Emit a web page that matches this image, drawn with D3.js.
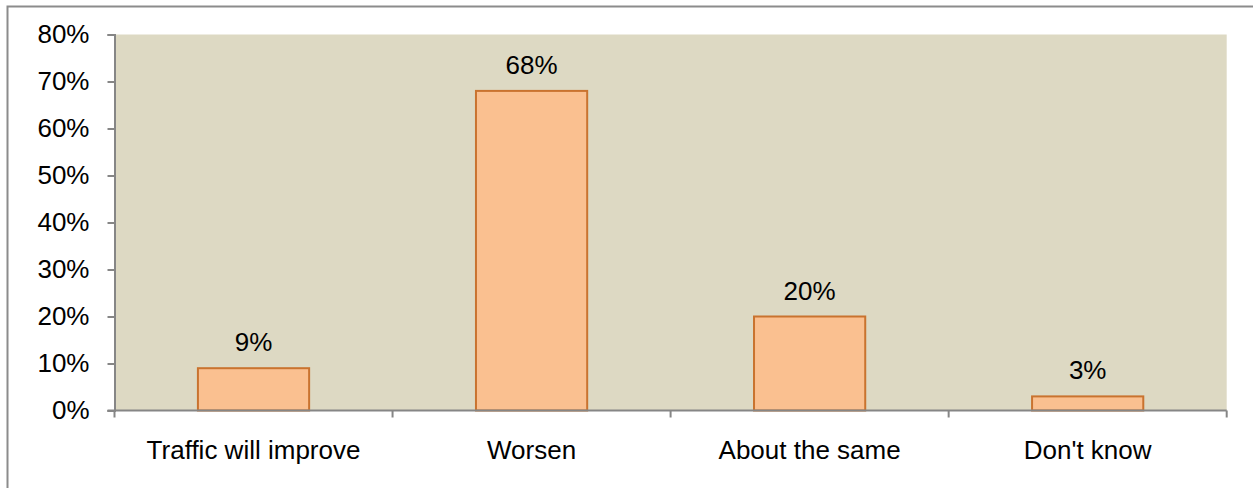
<!DOCTYPE html>
<html>
<head>
<meta charset="utf-8">
<script src="https://cdn.jsdelivr.net/npm/d3@7"></script>
<style>
  html, body { margin: 0; padding: 0; background: #fff; }
  svg { display: block; font-family: "Liberation Sans", Arial, sans-serif; }
</style>
</head>
<body>
<svg id="chart" width="1253" height="488"></svg>
<script>
// Survey responses: expected change in traffic
const categories = ["Traffic will improve", "Worsen", "About the same", "Don't know"];
const shares = [0.09, 0.68, 0.20, 0.03];
const yTicks = [0, 0.1, 0.2, 0.3, 0.4, 0.5, 0.6, 0.7, 0.8];

const svg = d3.select("#chart");
const plotLeft = 114.5, plotRight = 1226.7, plotTop = 34.5, plotBottom = 410.5;
const axisColor = "#868686";

// outer frame of the chart
svg.append("rect")
  .attr("x", 7.5).attr("y", 6.5)
  .attr("width", 1300).attr("height", 600)
  .attr("fill", "#fff")
  .attr("stroke", "#8c8c8c").attr("stroke-width", 2);

const x = d3.scaleBand().domain(categories).range([plotLeft, plotRight]).paddingInner(0).paddingOuter(0);
const y = d3.scaleLinear().domain([0, 0.8]).range([plotBottom, plotTop]);

// plot area
svg.append("rect")
  .attr("x", plotLeft).attr("y", plotTop)
  .attr("width", plotRight - plotLeft).attr("height", plotBottom - plotTop)
  .attr("fill", "#DDD9C3");

// bars
const bw = x.bandwidth();
svg.append("g").selectAll("rect")
  .data(categories)
  .join("rect")
  .attr("x", (c) => x(c) + bw * 0.3)
  .attr("y", (c, i) => y(shares[i]))
  .attr("width", bw * 0.4)
  .attr("height", (c, i) => y(0) - y(shares[i]))
  .attr("fill", "#FAC090")
  .attr("stroke", "#C9732F")
  .attr("stroke-width", 2);

// value labels
svg.append("g").selectAll("text")
  .data(categories)
  .join("text")
  .attr("x", (c) => x(c) + bw / 2)
  .attr("y", (c, i) => y(shares[i]) - 17)
  .attr("text-anchor", "middle")
  .attr("font-size", 26)
  .attr("fill", "#000")
  .text((c, i) => d3.format(".0%")(shares[i]));

// y axis
const yAxis = svg.append("g")
  .attr("transform", `translate(${plotLeft},0)`)
  .call(d3.axisLeft(y).tickValues(yTicks).tickFormat(d3.format(".0%")).tickSize(7).tickPadding(18));
yAxis.select(".domain").attr("stroke", axisColor).attr("stroke-width", 2);
yAxis.selectAll(".tick line").attr("stroke", axisColor).attr("stroke-width", 2);
yAxis.selectAll(".tick text").attr("font-size", 26).attr("fill", "#000")
  .attr("font-family", "Liberation Sans, Arial, sans-serif");

// x axis with ticks at band boundaries
const xAxis = svg.append("g").attr("transform", `translate(0,${plotBottom})`);
xAxis.append("line")
  .attr("x1", plotLeft - 7).attr("x2", plotRight)
  .attr("stroke", axisColor).attr("stroke-width", 2);
const bounds = categories.map((c) => x(c)).concat([x(categories[categories.length - 1]) + bw]);
xAxis.selectAll("line.tk")
  .data(bounds)
  .join("line")
  .attr("class", "tk")
  .attr("x1", (d) => d).attr("x2", (d) => d)
  .attr("y1", 0).attr("y2", 7)
  .attr("stroke", axisColor).attr("stroke-width", 2);
xAxis.selectAll("text")
  .data(categories)
  .join("text")
  .attr("x", (c) => x(c) + bw / 2)
  .attr("y", 48.8)
  .attr("text-anchor", "middle")
  .attr("font-size", 26)
  .attr("fill", "#000")
  .text((c) => c);
</script>
</body>
</html>
